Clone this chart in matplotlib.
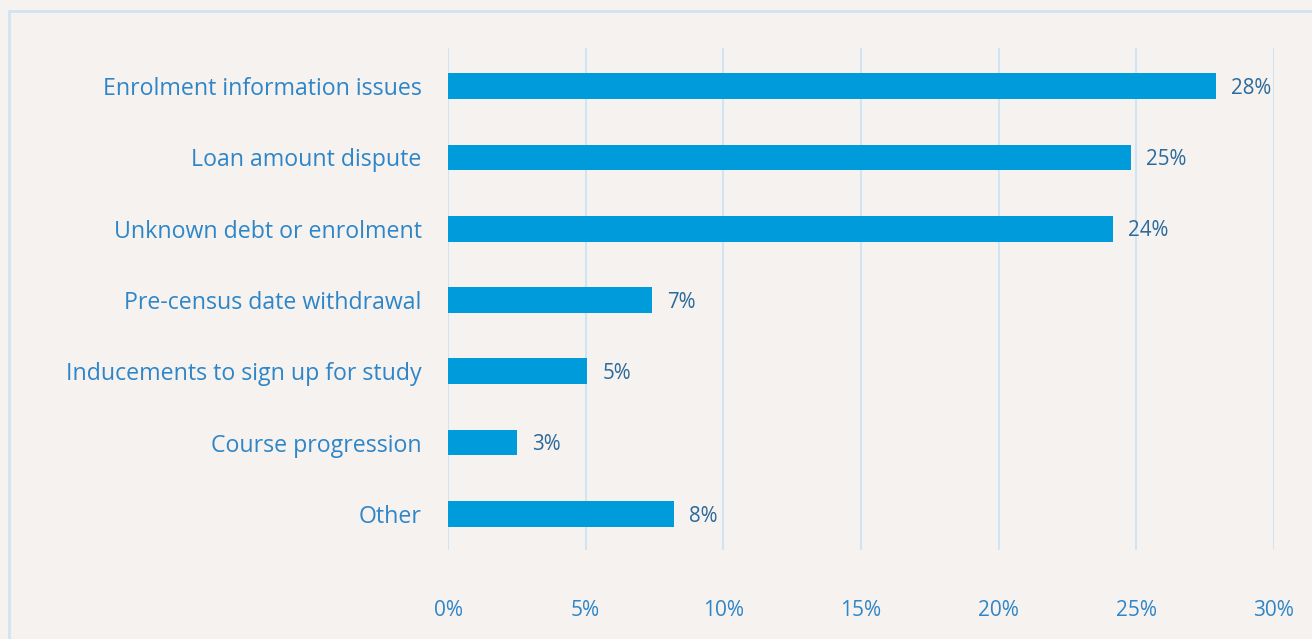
import matplotlib
matplotlib.use("Agg")
import matplotlib.pyplot as plt
from matplotlib.patches import Rectangle

categories = ["Enrolment information issues", "Loan amount dispute", "Unknown debt or enrolment",
              "Pre-census date withdrawal", "Inducements to sign up for study", "Course progression", "Other"]
values = [27.9, 24.8, 24.15, 7.4, 5.05, 2.5, 8.2]
labels = ["28%", "25%", "24%", "7%", "5%", "3%", "8%"]
xticks = [0, 5, 10, 15, 20, 25, 30]
xticklabels = ["0%", "5%", "10%", "15%", "20%", "25%", "30%"]

plt.rcParams['font.family'] = ['Open Sans', 'DejaVu Sans']
bg = "#F6F2EF"
fig = plt.figure(figsize=(13.12, 6.39), dpi=100, facecolor=bg)
fig.patches.append(Rectangle((9/1312, -0.1), 1.2, (639-11)/639 + 0.1, transform=fig.transFigure,
                             fill=False, edgecolor="#CFE4F4", linewidth=2))
ax = fig.add_axes([448/1312, 1-550/639, (1274-448)/1312, (550-48)/639])
ax.set_facecolor(bg)
y = list(range(len(categories)))
ax.barh(y, values, height=0.36, color="#009BDB", zorder=3)
ax.set_ylim(6.505, -0.533)
ax.set_xlim(0, 30)
ax.set_xticks(xticks)
ax.set_xticklabels(xticklabels)
ax.set_yticks(y)
ax.set_yticklabels(categories)
ax.tick_params(axis='x', length=0, pad=36, labelsize=15, labelcolor="#2E86C8")
ax.tick_params(axis='y', length=0, pad=19, labelsize=16.7, labelcolor="#2E86C8")
for s in ax.spines.values():
    s.set_visible(False)
ax.grid(axis='x', color="#CFE4F4", linewidth=1.5, zorder=0)
for yi, v, lab in zip(y, values, labels):
    ax.annotate(lab, (v, yi), xytext=(11, -1.5), textcoords="offset points",
                va="center", ha="left", fontsize=14.8, color="#2B6A9B")
fig.savefig("out.png", dpi=100, facecolor=bg)
